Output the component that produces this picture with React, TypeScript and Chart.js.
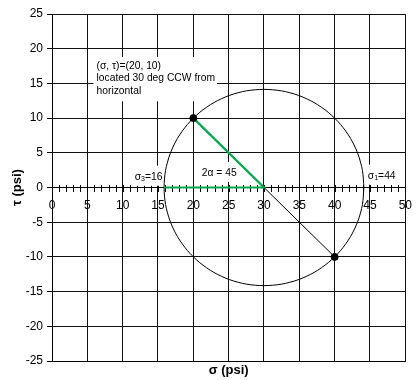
import React, { useEffect, useRef } from 'react';
import { Chart, registerables } from 'chart.js';

Chart.register(...registerables);

const FONT = 'Liberation Sans, Arial, Helvetica, sans-serif';

// Mohr's circle outline (sigma, tau)
const circleSigma = [44.14, 43.93, 43.29, 42.25, 40.83, 39.09, 37.07, 34.84, 32.46, 30, 27.54, 25.16, 22.93, 20.91, 19.17, 17.75, 16.71, 16.07, 15.86, 16.07, 16.71, 17.75, 19.17, 20.91, 22.93, 25.16, 27.54, 30, 32.46, 34.84, 37.07, 39.09, 40.83, 42.25, 43.29, 43.93, 44.14];
const circleTau = [0, 2.46, 4.84, 7.07, 9.09, 10.83, 12.25, 13.29, 13.93, 14.14, 13.93, 13.29, 12.25, 10.83, 9.09, 7.07, 4.84, 2.46, 0, -2.46, -4.84, -7.07, -9.09, -10.83, -12.25, -13.29, -13.93, -14.14, -13.93, -13.29, -12.25, -10.83, -9.09, -7.07, -4.84, -2.46, 0];

// Diameter through the stress points
const diameterSigma = [20, 40];
const diameterTau = [10, -10];

// 2-alpha angle lines (green)
const angleSigma = [15.86, 30, 20];
const angleTau = [0, 0, 10];

// Axis ranges / ticks
const sigmaMin = 0;
const sigmaMax = 50;
const tauMin = -25;
const tauMax = 25;
const majorStep = 5;
const minorStep = 1;

// Text annotations (data-anchored, left edge / vertical middle)
const annotations = [
  { x: 11.7, y: 1.55, parts: [{ t: 'σ' }, { t: '3', sub: true }, { t: '=16' }] },
  { x: 21.2, y: 2.1, parts: [{ t: '2α = 45' }] },
  { x: 44.7, y: 1.7, parts: [{ t: 'σ' }, { t: '1', sub: true }, { t: '=44' }] },
];
const noteLines = ['(σ, τ)=(20, 10)', 'located 30 deg CCW from', 'horizontal'];
const noteAnchor = { x: 6.3, y: 17.5 };

const toPts = (xs: number[], ys: number[]) => xs.map((x, i) => ({ x, y: ys[i] }));

const overlayPlugin = {
  id: 'overlay',
  beforeDatasetsDraw(chart: any) {
    const { ctx, scales } = chart;
    const xs = scales.x;
    const ys = scales.y;
    ctx.save();
    // minor ticks crossing the sigma axis
    const y0 = ys.getPixelForValue(0);
    ctx.strokeStyle = '#000';
    ctx.lineWidth = 1;
    ctx.beginPath();
    for (let v = sigmaMin; v <= sigmaMax; v += minorStep) {
      const px = Math.round(xs.getPixelForValue(v)) + 0.5;
      ctx.moveTo(px, Math.round(y0) - 3);
      ctx.lineTo(px, Math.round(y0) + 4);
    }
    ctx.stroke();

    // labels with white backgrounds
    const size = 10.3;
    ctx.textBaseline = 'middle';
    ctx.textAlign = 'left';
    annotations.forEach((a) => {
      const px = xs.getPixelForValue(a.x);
      const py = ys.getPixelForValue(a.y);
      let w = 0;
      a.parts.forEach((p: any) => {
        ctx.font = `${p.sub ? 7 : size}px ${FONT}`;
        w += ctx.measureText(p.t).width;
      });
      ctx.fillStyle = '#fff';
      ctx.fillRect(px - 2, py - 11, w + 4, 20);
      let cx = px;
      a.parts.forEach((p: any) => {
        ctx.font = `${p.sub ? 7 : size}px ${FONT}`;
        ctx.fillStyle = '#000';
        ctx.fillText(p.t, cx, p.sub ? py + 2.5 : py);
        cx += ctx.measureText(p.t).width;
      });
    });

    // multi-line note
    const nx = xs.getPixelForValue(noteAnchor.x);
    const ny = ys.getPixelForValue(noteAnchor.y);
    const lh = 12.4;
    ctx.font = `${size}px ${FONT}`;
    let mw = 0;
    noteLines.forEach((l) => (mw = Math.max(mw, ctx.measureText(l).width)));
    ctx.fillStyle = '#fff';
    ctx.fillRect(nx - 3, ny - 9, mw + 5, lh * noteLines.length + 7);
    ctx.fillStyle = '#000';
    noteLines.forEach((l, i) => ctx.fillText(l, nx, ny + i * lh));
    ctx.restore();
  },
};

export default function App() {
  const ref = useRef<HTMLCanvasElement | null>(null);
  useEffect(() => {
    if (!ref.current) return;
    const tickFont = { family: FONT, size: 12 };
    const chart = new Chart(ref.current, {
      type: 'scatter',
      data: {
        datasets: [
          {
            // stress points (drawn on top)
            data: toPts(diameterSigma, diameterTau),
            showLine: false,
            pointRadius: 3.5,
            pointBackgroundColor: '#000',
            pointBorderColor: '#000',
            xAxisID: 'x',
            yAxisID: 'y',
          },
          {
            data: toPts(angleSigma, angleTau),
            showLine: true,
            borderColor: '#00a54f',
            borderWidth: 2.2,
            pointRadius: 0,
            xAxisID: 'x',
            yAxisID: 'y',
          },
          {
            data: toPts(diameterSigma, diameterTau),
            showLine: true,
            borderColor: '#000',
            borderWidth: 1,
            pointRadius: 0,
            xAxisID: 'x',
            yAxisID: 'y',
          },
          {
            data: toPts(circleSigma, circleTau),
            showLine: true,
            borderColor: '#000',
            borderWidth: 1,
            pointRadius: 0,
            tension: 0.3,
            xAxisID: 'x',
            yAxisID: 'y',
          },
        ],
      },
      options: {
        animation: false,
        responsive: true,
        maintainAspectRatio: false,
        layout: { padding: { left: 0, right: 9, top: 14, bottom: 0 } },
        plugins: { legend: { display: false }, tooltip: { enabled: false } },
        scales: {
          x: {
            type: 'linear',
            position: 'bottom',
            min: sigmaMin,
            max: sigmaMax,
            ticks: { stepSize: majorStep, display: false },
            grid: { color: '#111', lineWidth: 1, drawTicks: false },
            border: { display: true, color: '#000' },
            title: {
              display: true,
              text: 'σ (psi)',
              color: '#000',
              font: { family: FONT, size: 13, weight: 'bold' },
              padding: { top: 0, bottom: 2 },
            },
            afterFit: (s: any) => {
              s.height = 19;
            },
          },
          x0: {
            type: 'linear',
            position: { y: 0 },
            min: sigmaMin,
            max: sigmaMax,
            ticks: {
              stepSize: minorStep,
              autoSkip: false,
              maxRotation: 0,
              padding: 8,
              color: '#000',
              font: tickFont,
              callback: (v: any) => (Number(v) % majorStep === 0 ? String(v) : ''),
            },
            grid: { drawOnChartArea: false, drawTicks: true, tickLength: 3, tickColor: 'rgba(0,0,0,0)' },
            border: { display: true, color: '#000', width: 1 },
          },
          y: {
            type: 'linear',
            position: 'left',
            min: tauMin,
            max: tauMax,
            ticks: { stepSize: majorStep, padding: 4, color: '#000', font: tickFont },
            grid: { color: '#111', lineWidth: 1, tickLength: 5, tickColor: '#000' },
            border: { display: true, color: '#000' },
            title: {
              display: true,
              text: 'τ (psi)',
              color: '#000',
              font: { family: FONT, size: 13, weight: 'bold' },
              padding: { top: 10, bottom: 0 },
            },
            afterFit: (s: any) => {
              s.width = 52;
            },
          },
        },
      } as any,
      plugins: [overlayPlugin],
    });
    return () => chart.destroy();
  }, []);
  return (
    <div style={{ position: 'absolute', left: 0, top: 0, width: 420, height: 380, background: '#fff' }}>
      <canvas ref={ref} />
    </div>
  );
}
